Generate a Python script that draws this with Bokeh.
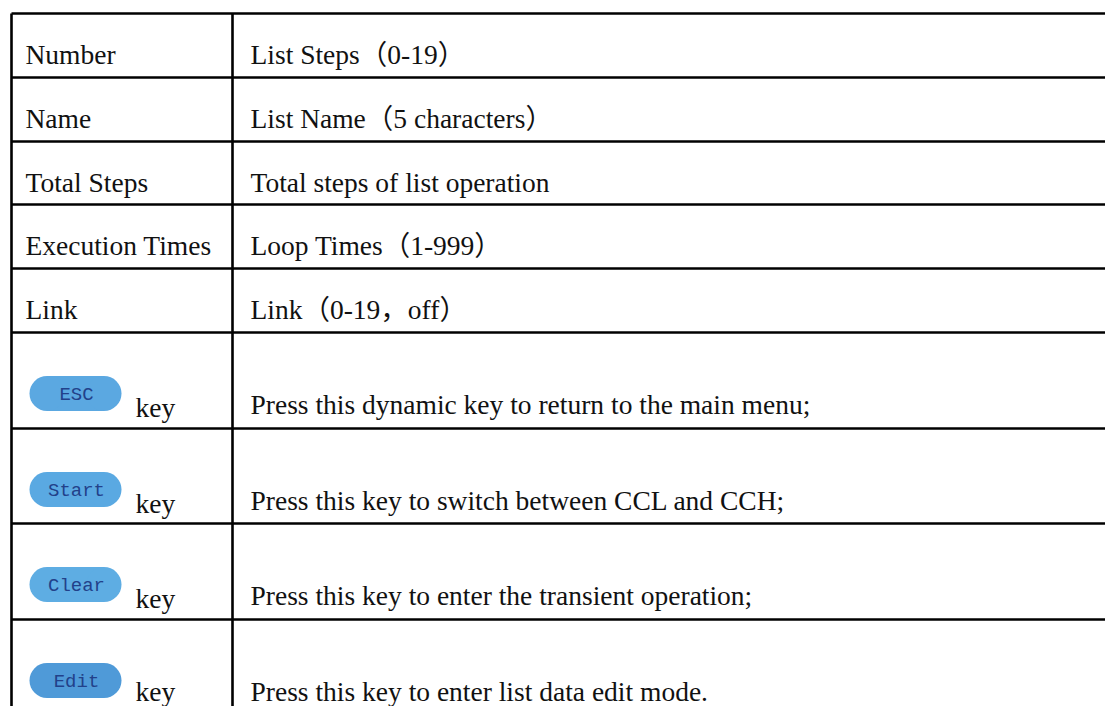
from bokeh.plotting import figure
from bokeh.models import ColumnDataSource, Range1d
from bokeh.core.properties import value
from bokeh.embed import file_html
from bokeh.resources import INLINE

# ---- table content ----
left_labels = ["Number", "Name", "Total Steps", "Execution Times", "Link"]
right_labels = [
    "List Steps（0-19）",
    "List Name（5 characters）",
    "Total steps of list operation",
    "Loop Times（1-999）",
    "Link（0-19，off）",
]
key_names = ["ESC", "Start", "Clear", "Edit"]
key_texts = [
    "Press this dynamic key to return to the main menu;",
    "Press this key to switch between CCL and CCH;",
    "Press this key to enter the transient operation;",
    "Press this key to enter list data edit mode.",
]
key_colors = ["#5ba8e1", "#5aa9e2", "#5eade3", "#4f9ad8"]

# ---- layout (page pixel coordinates) ----
W, H = 1105, 706
table_left = 11
col_split = 232
table_top = 13
small_rows = [64, 64, 63, 64, 64]
big_rows = [96, 95, 96, 96]
line_w = 2.6
fs = "27.5px"
serif = value("Liberation Serif, Noto Sans CJK SC")

edges = [table_top]
for h in small_rows + big_rows:
    edges.append(edges[-1] + h)

p = figure(width=W, height=H, output_backend="svg", toolbar_location=None,
           x_range=Range1d(0, W), y_range=Range1d(H, 0),
           min_border=0, tools="")
p.axis.visible = False
p.grid.visible = False
p.outline_line_color = None
p.background_fill_color = "white"
p.border_fill_color = "white"

# horizontal rules
p.segment(x0=[table_left] * len(edges), x1=[W + 5] * len(edges),
          y0=edges, y1=edges, line_color="black", line_width=line_w)
# vertical rules
p.segment(x0=[table_left, col_split], x1=[table_left, col_split],
          y0=[table_top, table_top], y1=[H + 5, H + 5],
          line_color="black", line_width=line_w)

# simple rows
n = len(left_labels)
centers = [(edges[i] + edges[i + 1]) / 2 for i in range(n)]
src = ColumnDataSource(dict(
    xl=[25] * n, xr=[250] * n, y=[c + 9 for c in centers],
    left=left_labels, right=right_labels))
p.text(x="xl", y="y", text="left", source=src, text_font=serif,
       text_font_size=fs, text_color="#111111", text_baseline="alphabetic")
p.text(x="xr", y="y", text="right", source=src, text_font=serif,
       text_font_size=fs, text_color="#111111", text_baseline="alphabetic")

# key rows
tops = edges[n:n + len(key_names)]
k = len(key_names)
btn_cy = [t + 61 for t in tops]
bh = 35
r = bh / 2
bx0, bx1 = 29, 121
p.rect(x=[(bx0 + bx1) / 2] * k, y=btn_cy, width=[bx1 - bx0 - bh] * k,
       height=[bh] * k, fill_color=key_colors, line_color=None)
p.circle(x=[bx0 + r] * k, y=btn_cy, radius=r, fill_color=key_colors, line_color=None)
p.circle(x=[bx1 - r] * k, y=btn_cy, radius=r, fill_color=key_colors, line_color=None)

ksrc = ColumnDataSource(dict(
    bx=[(bx0 + bx1) / 2 + 1] * k, by=[c + 1 for c in btn_cy], name=key_names,
    kx=[135] * k, ky=[min(t + 75, H - 15) for t in tops], key=["key"] * k,
    px=[250] * k, py=[t + 72 for t in tops], desc=key_texts))
p.text(x="bx", y="by", text="name", source=ksrc, text_font=value("Liberation Mono"),
       text_font_size="19px", text_color="#22418a", text_align="center",
       text_baseline="middle")
p.text(x="kx", y="ky", text="key", source=ksrc, text_font=serif,
       text_font_size=fs, text_color="#111111", text_baseline="alphabetic")
p.text(x="px", y="py", text="desc", source=ksrc, text_font=serif,
       text_font_size=fs, text_color="#111111", text_baseline="alphabetic")

open("out.html", "w").write(file_html(p, INLINE))
